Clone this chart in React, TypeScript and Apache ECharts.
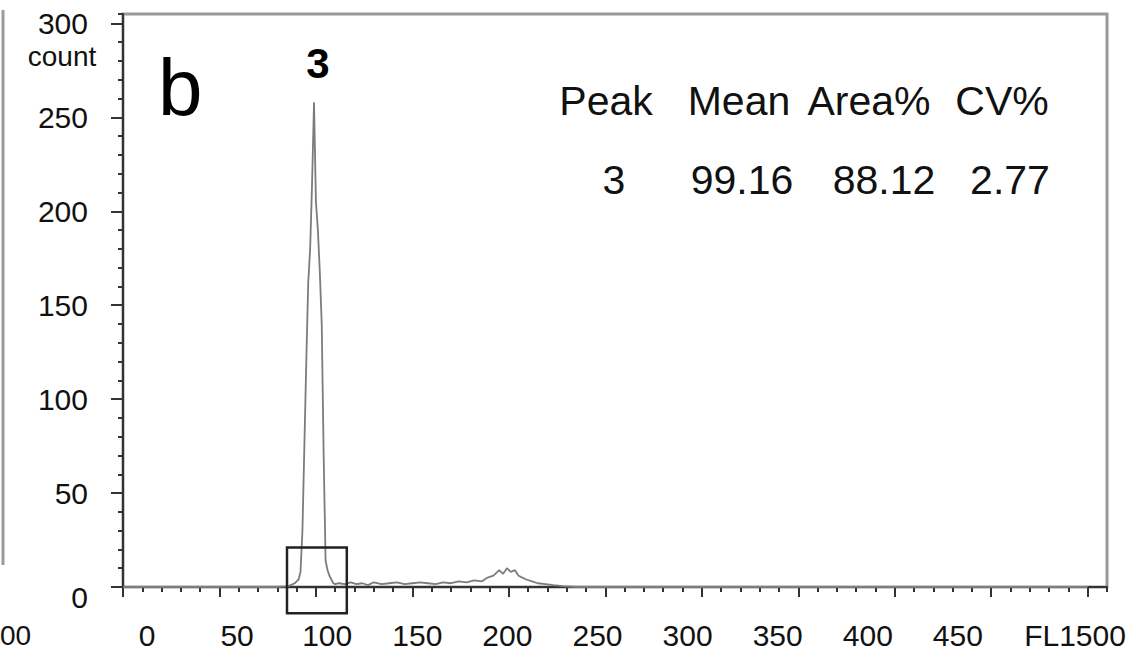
import React, { useEffect, useRef } from "react";
import * as echarts from "echarts";

// FL1 channel positions and counts
const channels = [
  0, 10, 20, 30, 40, 50, 60, 70, 80, 84, 86, 88, 89, 90, 91, 92, 93, 94, 95, 96,
  97, 98, 99, 100, 101, 102, 103, 104, 105, 106, 107, 108, 109, 110, 112, 115,
  118, 121, 124, 127, 130, 134, 138, 142, 146, 150, 154, 158, 162, 166, 170, 174,
  178, 182, 186, 189, 192, 195, 197, 199, 201, 203, 205, 207, 209, 212, 215, 219,
  223, 228, 235, 250, 300, 400, 500,
];
const counts = [
  0, 0, 0, 0, 0, 0, 0, 0, 0, 0.3, 0.6, 1.5, 2, 3, 4, 8, 30, 75, 120, 162,
  180, 215, 258, 205, 190, 168, 140, 70, 14, 9, 6, 4, 2, 1.5, 2, 1.5,
  2.5, 1.5, 2, 1, 2.5, 1.5, 2, 2.5, 1.5, 2, 2.5, 2, 1.5, 2.5, 2, 3,
  2.5, 3.5, 3, 5, 6, 9, 7, 10, 8, 9, 6, 5, 4, 3, 2, 1.5,
  1, 0.5, 0, 0, 0, 0, 0,
];

const yMajorTicks = [0, 50, 100, 150, 200, 250, 300];
const xMajorTicks = [0, 50, 100, 150, 200, 250, 300, 350, 400, 450, 500];
const xAxisPrefix = "FL1";

// gate rectangle around the peak (channel range, count range)
const gateX = [85, 116];
const gateY = [-14, 21];

const panelLetter = "b";
const peakName = "3";
const tableHeaders = ["Peak", "Mean", "Area%", "CV%"];
const tableValues = ["3", "99.16", "88.12", "2.77"];

const FONT = "'Liberation Sans', Arial, Helvetica, sans-serif";

export default function App() {
  const ref = useRef<HTMLDivElement>(null);

  useEffect(() => {
    if (!ref.current) return;
    const chart = echarts.init(ref.current, null, { renderer: "svg" });

    const data = channels.map((c, i) => [c, counts[i]]);
    const headerX = [606, 739, 869, 1002];
    const valueX = [614, 742, 884, 1010];

    const staticGraphics: any[] = [
      {
        type: "line",
        shape: { x1: 3, y1: 10, x2: 3, y2: 565 },
        style: { stroke: "#9a9a9a", lineWidth: 3 },
      },
      {
        type: "text",
        x: 0,
        y: 635,
        style: {
          text: "00",
          font: `28px ${FONT}`,
          fill: "#111",
          textAlign: "left",
          textVerticalAlign: "middle",
        },
      },
      {
        type: "text",
        x: 62,
        y: 56,
        style: {
          text: "count",
          font: `28px ${FONT}`,
          fill: "#111",
          textAlign: "center",
          textVerticalAlign: "middle",
        },
      },
      {
        type: "text",
        x: 158,
        y: 87,
        style: {
          text: panelLetter,
          font: `80px ${FONT}`,
          fill: "#000",
          textAlign: "left",
          textVerticalAlign: "middle",
        },
      },
      {
        type: "text",
        x: 318,
        y: 63,
        style: {
          text: peakName,
          font: `bold 42px ${FONT}`,
          fill: "#000",
          textAlign: "center",
          textVerticalAlign: "middle",
        },
      },
      ...tableHeaders.map((t, i) => ({
        type: "text",
        x: headerX[i],
        y: 101,
        style: {
          text: t,
          font: `41px ${FONT}`,
          fill: "#111",
          textAlign: "center",
          textVerticalAlign: "middle",
        },
      })),
      ...tableValues.map((t, i) => ({
        type: "text",
        x: valueX[i],
        y: 180,
        style: {
          text: t,
          font: `41px ${FONT}`,
          fill: "#111",
          textAlign: "center",
          textVerticalAlign: "middle",
        },
      })),
    ];

    const axisColor = "#333";
    const labelStyle = { fontSize: 30, fontFamily: FONT, color: "#111" };

    chart.setOption({
      animation: false,
      backgroundColor: "#fff",
      grid: [
        {
          left: 123,
          right: 29,
          top: 14,
          bottom: 71,
          show: true,
          borderColor: "#999",
          borderWidth: 3,
          backgroundColor: "transparent",
        },
        { left: 147, right: 88, top: 14, bottom: 71, show: false },
      ],
      xAxis: [
        {
          type: "value",
          gridIndex: 0,
          position: "bottom",
          min: 0,
          max: 510,
          interval: 10,
          axisLine: { show: true, lineStyle: { color: axisColor, width: 2 } },
          axisTick: { show: true, length: 5, lineStyle: { color: axisColor, width: 2 } },
          axisLabel: { show: false },
          splitLine: { show: false },
        },
        {
          type: "value",
          gridIndex: 0,
          position: "bottom",
          min: 0,
          max: 510,
          axisLine: { show: false },
          axisTick: {
            show: true,
            length: 10,
            customValues: xMajorTicks,
            lineStyle: { color: axisColor, width: 2 },
          },
          axisLabel: { show: false },
          splitLine: { show: false },
        },
        {
          type: "value",
          gridIndex: 1,
          position: "bottom",
          min: 0,
          max: 500,
          interval: 50,
          axisLine: { show: false },
          axisTick: { show: false },
          splitLine: { show: false },
          axisLabel: {
            show: true,
            margin: 33,
            ...labelStyle,
            formatter: (v: number) =>
              v === 500 ? `{f|${xAxisPrefix}${v}}` : String(v),
            rich: {
              f: { ...labelStyle, padding: [0, 0, 0, 54] },
            },
          },
        },
      ],
      yAxis: [
        {
          type: "value",
          gridIndex: 0,
          position: "left",
          min: 0,
          max: 305,
          interval: 10,
          axisLine: { show: true, lineStyle: { color: axisColor, width: 2 } },
          axisTick: { show: true, length: 5, lineStyle: { color: axisColor, width: 2 } },
          axisLabel: { show: false },
          splitLine: { show: false },
        },
        {
          type: "value",
          gridIndex: 0,
          position: "left",
          min: 0,
          max: 305,
          axisLine: { show: false },
          axisTick: {
            show: true,
            length: 12,
            customValues: yMajorTicks,
            lineStyle: { color: axisColor, width: 2 },
          },
          axisLabel: {
            show: true,
            margin: 35,
            customValues: yMajorTicks,
            ...labelStyle,
            formatter: (v: number) =>
              v === 0 ? "{z|0}" : v % 50 === 0 ? String(v) : "",
            rich: { z: { ...labelStyle, padding: [20, 0, 0, 0] } },
          },
          splitLine: { show: false },
        },
        { type: "value", gridIndex: 1, show: false, min: 0, max: 305 },
      ],
      series: [
        {
          type: "line",
          xAxisIndex: 0,
          yAxisIndex: 0,
          data,
          showSymbol: false,
          symbol: "none",
          lineStyle: { color: "#7c7c7c", width: 1.8 },
          z: 5,
        },
      ],
      graphic: staticGraphics,
    });

    const p1 = chart.convertToPixel({ xAxisIndex: 0, yAxisIndex: 0 }, [gateX[0], gateY[1]]) as number[];
    const p2 = chart.convertToPixel({ xAxisIndex: 0, yAxisIndex: 0 }, [gateX[1], gateY[0]]) as number[];
    chart.setOption({
      graphic: [
        ...staticGraphics,
        {
          type: "rect",
          shape: { x: p1[0], y: p1[1], width: p2[0] - p1[0], height: p2[1] - p1[1] },
          style: { fill: "none", stroke: "#222", lineWidth: 2.5 },
          z: 10,
        },
      ],
    });

    return () => chart.dispose();
  }, []);

  return (
    <div
      ref={ref}
      style={{ position: "absolute", left: 0, top: 0, width: 1136, height: 658, background: "#fff" }}
    />
  );
}
